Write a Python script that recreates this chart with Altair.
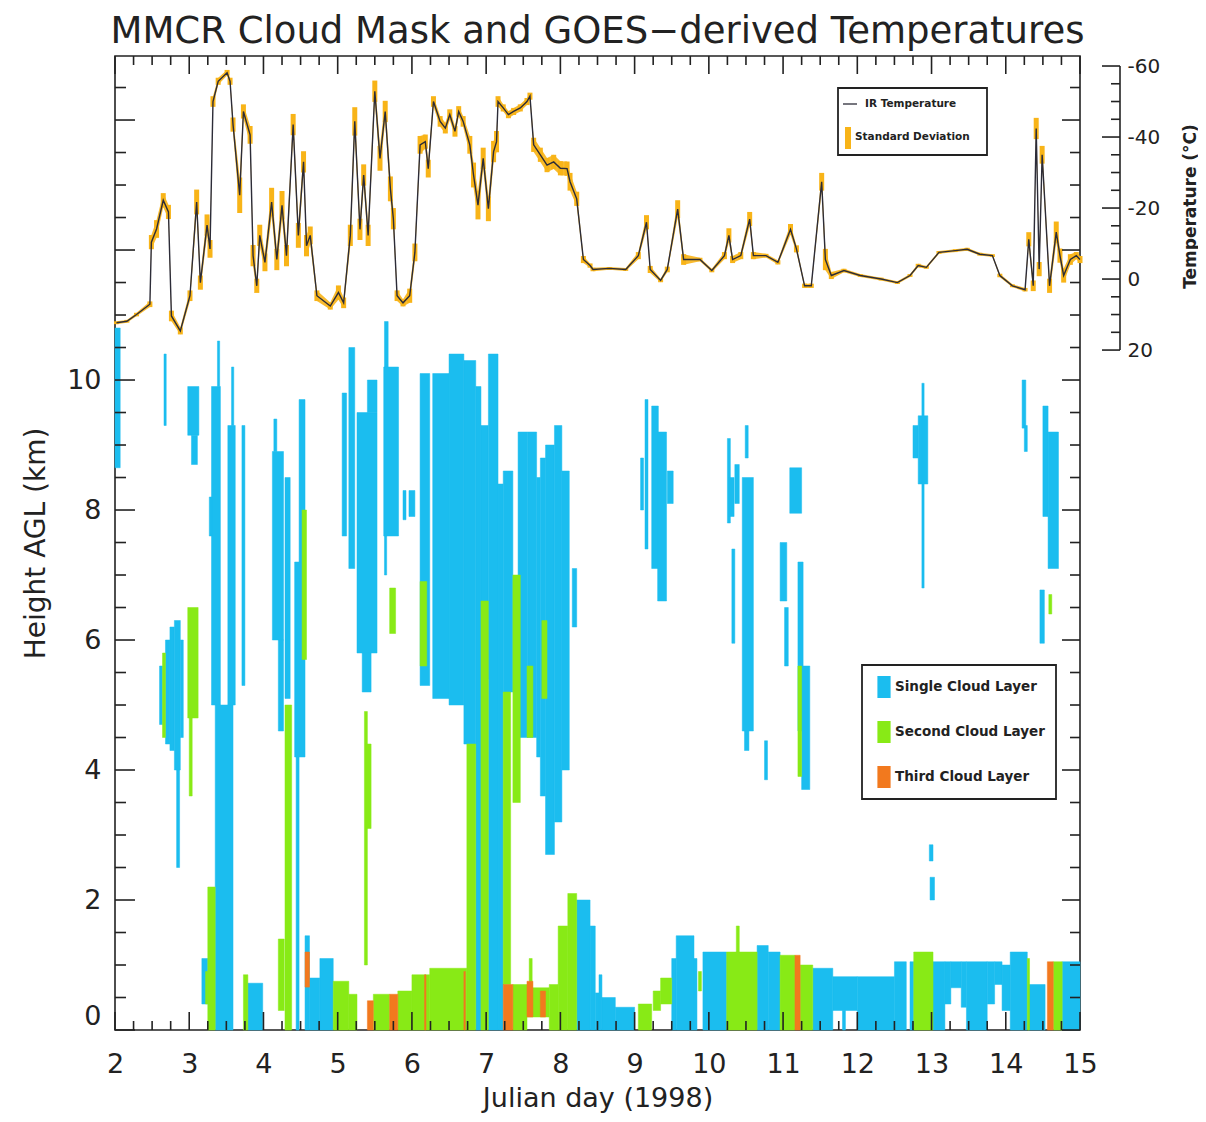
import altair as alt
import pandas as pd

W, H = 965, 974
X_DOMAIN = [2, 15]
KM_DOMAIN = [0, 14.985]
T_DOMAIN = [-62.82, 211.5]
FONT = "DejaVu Sans"
INK = "#222222"
SD_COLOR = "#F8B418"
LINE_COLOR = "#2c2c38"
TITLE = "MMCR Cloud Mask and GOES−derived Temperatures"

# ---------------- GOES IR temperature (deg C) and its standard deviation ----------------
temp_day = [2.02, 2.16, 2.29, 2.47, 2.49, 2.56, 2.65, 2.72, 2.76, 2.88,
            3.01, 3.10, 3.15, 3.24, 3.28, 3.32, 3.39, 3.51, 3.55, 3.59,
            3.68, 3.73, 3.82, 3.86, 3.91, 3.95, 4.02, 4.11, 4.18, 4.25,
            4.31, 4.40, 4.47, 4.54, 4.58, 4.63, 4.72, 4.90, 5.01, 5.08,
            5.17, 5.23, 5.30, 5.35, 5.41, 5.50, 5.57, 5.64, 5.71, 5.75,
            5.80, 5.88, 5.97, 6.04, 6.11, 6.18, 6.22, 6.29, 6.38, 6.45,
            6.51, 6.58, 6.63, 6.69, 6.78, 6.83, 6.89, 6.96, 7.03, 7.10,
            7.14, 7.16, 7.23, 7.30, 7.37, 7.46, 7.55, 7.59, 7.64, 7.73,
            7.82, 7.91, 8.00, 8.09, 8.13, 8.22, 8.31, 8.40, 8.44, 8.66,
            8.88, 9.05, 9.16, 9.21, 9.35, 9.44, 9.58, 9.66, 9.88, 10.04,
            10.21, 10.27, 10.32, 10.43, 10.55, 10.60, 10.77, 10.93, 11.10, 11.18,
            11.29, 11.38, 11.52, 11.57, 11.65, 11.82, 12.04, 12.32, 12.54, 12.71,
            12.82, 12.93, 13.10, 13.32, 13.48, 13.65, 13.82, 13.92, 14.09, 14.26,
            14.31, 14.37, 14.41, 14.45, 14.49, 14.59, 14.68, 14.73, 14.78, 14.87,
            14.95, 15.00]
temp_c = [12.3, 11.9, 10.0, 7.1, -10.4, -14.1, -22.2, -18.9, 10.4, 14.6,
          4.7, -21.7, 1.0, -15.2, -8.5, -50.0, -55.7, -58.1, -55.7, -43.5,
          -23.6, -47.2, -40.6, -6.6, 1.9, -12.3, -4.7, -21.7, -5.5, -20.8,
          -6.6, -43.5, -12.3, -33.0, -9.4, -12.3, 4.7, 7.6, 3.8, 6.7,
          -12.3, -44.4, -14.0, -29.3, -12.3, -52.9, -34.0, -47.2, -25.4, -17.0,
          4.7, 6.7, 4.7, -7.5, -37.8, -38.7, -31.1, -50.0, -44.4, -42.5,
          -46.3, -41.6, -47.2, -44.4, -37.8, -29.3, -20.8, -34.0, -19.8, -35.9,
          -38.7, -50.0, -48.2, -46.3, -47.2, -48.2, -50.0, -51.5, -37.8, -35.0,
          -32.1, -33.0, -31.2, -31.1, -27.4, -22.6, -5.5, -3.8, -2.7, -3.0,
          -2.7, -6.6, -16.0, -2.7, 0.4, -2.7, -19.7, -5.5, -5.5, -2.4,
          -6.6, -12.3, -5.5, -6.6, -16.9, -6.6, -6.6, -4.7, -14.0, -8.5,
          1.9, 1.9, -27.4, -5.5, -1.0, -2.4, -1.0, 0.0, 1.0, -1.0,
          -3.8, -3.3, -7.5, -8.0, -8.4, -7.0, -6.6, -1.0, 1.9, 3.0,
          -11.2, 1.9, -42.4, -2.8, -35.0, 1.9, -13.2, -6.6, -1.0, -5.5,
          -6.6, -5.5]
temp_sd = [0.4, 0.4, 0.5, 0.8, 2.0, 2.5, 2.0, 2.0, 1.5, 1.0,
           1.5, 3.5, 2.0, 3.0, 2.5, 1.5, 1.0, 0.8, 1.0, 2.0,
           5.0, 2.0, 2.5, 3.0, 2.0, 3.0, 2.5, 4.0, 3.0, 4.0,
           3.0, 3.0, 3.5, 3.0, 3.0, 2.5, 1.5, 1.0, 2.0, 1.5,
           3.0, 4.0, 3.0, 3.0, 3.0, 3.0, 3.5, 3.0, 3.5, 3.0,
           1.5, 1.0, 2.0, 2.5, 2.5, 2.0, 2.5, 1.5, 1.5, 1.5,
           1.5, 1.5, 1.5, 1.5, 2.5, 3.5, 4.0, 3.0, 3.5, 3.0,
           3.0, 1.5, 1.0, 1.0, 1.0, 1.0, 1.0, 1.0, 2.0, 2.0,
           2.0, 2.0, 2.0, 2.0, 2.5, 2.0, 1.0, 0.6, 0.5, 0.4,
           0.4, 1.0, 2.0, 1.0, 0.5, 0.8, 2.5, 1.5, 0.5, 0.5,
           1.0, 2.0, 1.0, 1.0, 2.0, 1.0, 0.5, 0.6, 1.5, 1.0,
           0.6, 0.6, 2.5, 3.0, 1.0, 0.5, 0.4, 0.4, 0.4, 0.4,
           0.5, 0.4, 0.4, 0.4, 0.4, 0.4, 0.4, 0.5, 0.4, 0.5,
           2.0, 1.5, 3.0, 2.0, 2.5, 2.0, 3.0, 2.0, 2.0, 1.5,
           1.0, 1.0]

# ---------------- MMCR cloud mask: (day start, day end, base km, top km) ----------------
single_layer = [
    (2.00, 2.07, 8.65, 10.8), (2.60, 2.64, 4.7, 5.6), (2.68, 2.74, 4.4, 6.0),
    (2.74, 2.80, 4.3, 6.2), (2.80, 2.88, 4.0, 6.3), (2.83, 2.87, 2.5, 4.0),
    (2.88, 2.92, 4.5, 6.0), (2.66, 2.69, 9.3, 10.4), (2.98, 3.13, 9.15, 9.9),
    (3.03, 3.11, 8.7, 9.15), (3.17, 3.25, 0.4, 1.1), (3.30, 3.42, 5.0, 9.9),
    (3.38, 3.41, 9.9, 10.6), (3.35, 3.59, 0.0, 5.0), (3.52, 3.62, 5.0, 9.3),
    (3.57, 3.60, 9.3, 10.2), (3.27, 3.31, 7.6, 8.2), (3.71, 3.75, 5.3, 9.3),
    (3.79, 3.99, 0.0, 0.72), (4.14, 4.18, 8.9, 9.4), (4.12, 4.27, 6.0, 8.9),
    (4.20, 4.27, 4.6, 6.0), (4.29, 4.36, 5.1, 8.5), (4.42, 4.56, 4.2, 7.2),
    (4.48, 4.56, 7.2, 9.7), (4.44, 4.48, 0.0, 4.2), (4.56, 4.62, 0.0, 1.45),
    (4.62, 4.76, 0.0, 0.8), (4.76, 4.94, 0.0, 1.1), (5.06, 5.12, 7.6, 9.8),
    (5.15, 5.23, 7.1, 10.5), (5.26, 5.53, 5.8, 9.5), (5.40, 5.53, 9.5, 10.0),
    (5.33, 5.45, 5.2, 5.8), (5.62, 5.82, 7.6, 10.2), (5.63, 5.68, 10.2, 10.9),
    (5.63, 5.66, 7.0, 7.6), (5.88, 5.92, 7.85, 8.3), (5.96, 6.04, 7.9, 8.3),
    (6.11, 6.24, 5.3, 10.1), (6.28, 6.50, 5.1, 10.1), (6.50, 6.70, 5.0, 10.4),
    (6.70, 6.86, 4.4, 10.3), (6.86, 6.93, 0.0, 9.9), (6.93, 7.03, 5.4, 9.3),
    (7.03, 7.16, 0.0, 10.4), (7.16, 7.23, 0.0, 8.4), (7.23, 7.36, 5.2, 8.6),
    (7.43, 7.56, 4.5, 9.2), (7.56, 7.68, 4.5, 9.2), (7.68, 7.73, 4.2, 8.5),
    (7.73, 7.80, 3.6, 8.8), (7.80, 7.92, 2.7, 9.0), (7.92, 8.02, 3.2, 9.3),
    (8.02, 8.12, 4.0, 8.6), (8.16, 8.22, 6.2, 7.1), (8.22, 8.40, 0.0, 2.0),
    (8.40, 8.47, 0.0, 1.6), (8.47, 8.52, 0.0, 0.57), (8.52, 8.56, 0.0, 0.85),
    (8.56, 8.74, 0.0, 0.5), (8.74, 9.00, 0.0, 0.35), (9.08, 9.12, 8.0, 8.8),
    (9.14, 9.18, 7.4, 9.7), (9.23, 9.32, 7.1, 9.6), (9.31, 9.43, 6.6, 9.2),
    (9.44, 9.52, 8.1, 8.6), (9.50, 9.56, 0.0, 1.1), (9.56, 9.80, 0.0, 1.45),
    (9.80, 9.84, 0.0, 1.1), (9.92, 10.24, 0.0, 1.2), (10.65, 10.80, 0.0, 1.3),
    (10.80, 10.96, 0.0, 1.2), (10.25, 10.29, 7.8, 9.1), (10.27, 10.34, 7.9, 8.5),
    (10.35, 10.41, 8.1, 8.7), (10.49, 10.53, 8.8, 9.3), (10.31, 10.35, 5.95, 7.4),
    (10.45, 10.60, 4.6, 8.5), (10.48, 10.54, 4.3, 4.6), (10.75, 10.79, 3.85, 4.45),
    (11.09, 11.25, 7.95, 8.65), (10.96, 11.05, 6.6, 7.5), (11.02, 11.07, 5.6, 6.5),
    (11.20, 11.27, 4.6, 7.2), (11.25, 11.36, 3.7, 5.6), (11.40, 11.67, 0.0, 0.95),
    (11.67, 12.00, 0.3, 0.82), (11.80, 11.84, 0.0, 0.3), (12.00, 12.50, 0.0, 0.82),
    (12.50, 12.66, 0.0, 1.05), (12.71, 12.76, 0.0, 1.05), (12.75, 12.82, 8.8, 9.3),
    (12.82, 12.95, 8.4, 9.45), (12.87, 12.90, 6.8, 9.95), (12.98, 13.04, 2.0, 2.35),
    (12.97, 13.02, 2.6, 2.85), (13.02, 13.18, 0.0, 1.05), (13.18, 13.26, 0.4, 1.05),
    (13.26, 13.40, 0.65, 1.05), (13.40, 13.47, 0.35, 1.05), (13.47, 13.75, 0.0, 1.05),
    (13.75, 13.85, 0.4, 1.05), (13.85, 13.95, 0.7, 1.05), (13.95, 14.06, 0.3, 1.0),
    (14.06, 14.29, 0.0, 1.2), (14.30, 14.53, 0.0, 0.7), (14.76, 15.00, 0.0, 1.05),
    (14.22, 14.27, 9.26, 10.0), (14.25, 14.29, 8.9, 9.3), (14.50, 14.57, 7.9, 9.6),
    (14.57, 14.71, 7.1, 9.2), (14.46, 14.52, 5.95, 6.77),
]
second_layer = [
    (2.64, 2.68, 4.5, 5.8), (2.98, 3.12, 4.8, 6.5), (3.00, 3.04, 3.6, 4.8),
    (3.22, 3.25, 0.4, 0.9), (3.25, 3.35, 0.0, 2.2), (3.73, 3.79, 0.0, 0.85),
    (4.20, 4.28, 0.3, 1.4), (4.29, 4.38, 0.0, 5.0), (4.52, 4.58, 5.7, 8.0),
    (4.94, 5.15, 0.0, 0.75), (5.15, 5.26, 0.0, 0.55), (5.36, 5.40, 1.0, 4.9),
    (5.38, 5.45, 3.1, 4.4), (5.48, 5.70, 0.0, 0.55), (5.70, 5.78, 6.1, 6.8),
    (5.81, 6.00, 0.0, 0.6), (6.00, 6.24, 0.0, 0.85), (6.11, 6.20, 5.6, 6.9),
    (6.24, 6.74, 0.0, 0.95), (6.74, 6.86, 0.0, 4.4), (6.93, 7.03, 0.0, 6.6),
    (7.23, 7.33, 0.7, 5.2), (7.36, 7.46, 3.5, 7.0), (7.36, 7.55, 0.0, 0.7),
    (7.55, 7.85, 0.2, 0.65), (7.58, 7.62, 0.65, 1.1), (7.85, 7.97, 0.0, 0.7),
    (7.55, 7.63, 4.5, 5.6), (7.75, 7.82, 5.1, 6.3), (7.97, 8.10, 0.0, 1.6),
    (8.10, 8.22, 0.0, 2.1), (9.05, 9.23, 0.0, 0.4), (9.25, 9.35, 0.3, 0.6),
    (9.35, 9.50, 0.4, 0.8), (9.86, 9.90, 0.6, 0.9), (10.24, 10.65, 0.0, 1.2),
    (10.37, 10.41, 1.2, 1.6), (10.96, 11.16, 0.0, 1.15), (11.23, 11.40, 0.0, 1.0),
    (11.20, 11.25, 3.9, 5.6), (12.76, 13.02, 0.0, 1.2), (14.29, 14.32, 0.0, 1.1),
    (14.64, 14.76, 0.0, 1.05), (14.58, 14.62, 6.4, 6.7),
]
third_layer = [
    (4.56, 4.62, 0.66, 1.2), (5.40, 5.48, 0.0, 0.45), (5.70, 5.81, 0.0, 0.55),
    (6.17, 6.19, 0.0, 0.85), (6.70, 6.72, 0.0, 0.9), (7.23, 7.36, 0.0, 0.7),
    (7.55, 7.63, 0.2, 0.75), (7.73, 7.80, 0.2, 0.6), (11.16, 11.23, 0.0, 1.15),
    (14.56, 14.64, 0.0, 1.05),
]
layer_names = ["Single Cloud Layer", "Second Cloud Layer", "Third Cloud Layer"]
layer_colors = ["#1BBDEF", "#88EA16", "#F2791E"]

# ---------------- axis ticks ----------------
x_labels = list(range(2, 16))
x_major_ticks = list(range(2, 16))
x_minor_ticks = [d + f for d in range(2, 15) for f in (0.25, 0.5, 0.75)]
km_labels = [0, 2, 4, 6, 8, 10]
km_major_ticks = [0, 2, 4, 6, 8, 10, 12, 14]
km_minor_ticks = [v * 0.5 for v in range(0, 30) if v % 4 != 0]
t_major_ticks = [-60, -40, -20, 0, 20]
t_minor_ticks = [-55, -50, -45, -35, -30, -25, -15, -10, -5, 5, 10, 15]

assert len(temp_day) == len(temp_c) == len(temp_sd)

# ---------------- build tables ----------------
rows = []
for name, segs in zip(layer_names, [single_layer, second_layer, third_layer]):
    for d0, d1, h0, h1 in segs:
        rows.append({"d0": d0, "d1": d1, "h0": h0, "h1": h1, "kind": name})
clouds = pd.DataFrame(rows)
temp_df = pd.DataFrame({"day": temp_day, "t": temp_c, "sd": temp_sd})

xs = alt.Scale(domain=X_DOMAIN, nice=False, zero=False)
ys_km = alt.Scale(domain=KM_DOMAIN, nice=False, zero=False)
ys_t = alt.Scale(domain=T_DOMAIN, nice=False, zero=False, reverse=True)
cscale = alt.Scale(domain=layer_names, range=layer_colors)

X_AXIS = alt.Axis(
    values=x_labels, ticks=False, domain=False, grid=False,
    labelFontSize=27, labelPadding=21, labelFlush=False,
    title="Julian day (1998)", titleFontSize=27, titleFontWeight="normal",
    titlePadding=8)

cloud_chart = alt.Chart(clouds).mark_rect(strokeWidth=0.5).encode(
    x=alt.X("d0:Q", scale=xs, axis=X_AXIS),
    x2="d1:Q",
    y=alt.Y("h0:Q", scale=ys_km, axis=alt.Axis(
        values=km_labels, ticks=False, domain=False, grid=False,
        labelFontSize=27, labelPadding=14, labelFlush=True,
        title="Height AGL (km)", titleFontSize=28, titleFontWeight="normal",
        titlePadding=16)),
    y2="h1:Q",
    color=alt.Color("kind:N", scale=cscale, legend=alt.Legend(
        title=None, orient="none", legendX=747, legendY=609, direction="vertical",
        symbolType="M-0.6,-1H0.6V1H-0.6Z", symbolSize=484, symbolStrokeWidth=0,
        symbolOpacity=1, labelFontSize=13.5, labelFont=FONT, labelFontWeight="bold",
        labelColor=INK, labelOffset=0, rowPadding=23, padding=11,
        strokeColor=INK, fillColor="white", labelLimit=300)),
    stroke=alt.Stroke("kind:N", scale=cscale, legend=None),
)

sd_base = alt.Chart(temp_df).transform_calculate(
    lo="datum.t - datum.sd", hi="datum.t + datum.sd")

sd_band = sd_base.mark_area(color=SD_COLOR, opacity=0.9).encode(
    x=alt.X("day:Q", scale=xs, axis=X_AXIS),
    y=alt.Y("lo:Q", scale=ys_t, axis=None),
    y2="hi:Q",
)

sd_bars = sd_base.mark_rule(color=SD_COLOR, strokeWidth=5).encode(
    x=alt.X("day:Q", scale=xs, axis=X_AXIS),
    y=alt.Y("lo:Q", scale=ys_t, axis=None),
    y2="hi:Q",
)

line_chart = alt.Chart(temp_df).mark_line(color=LINE_COLOR, strokeWidth=1.4).encode(
    x=alt.X("day:Q", scale=xs, axis=X_AXIS),
    y=alt.Y("t:Q", scale=ys_t, axis=alt.Axis(
        orient="right", values=t_major_ticks, offset=40, ticks=False, domain=False,
        grid=False, labelExpr="'' + datum.value", labelFontSize=20, labelPadding=7,
        labelAlign="left", title="Temperature (°C)", titleFontSize=17,
        titleFontWeight="bold", titleAngle=270, titleX=70, titleY=150,
        titleAlign="center", titleBaseline="middle")),
)


def xticks(vals, y0, y1):
    return alt.Chart(pd.DataFrame({"v": vals})).mark_rule(color=INK, strokeWidth=1.6).encode(
        x=alt.X("v:Q", scale=xs, axis=X_AXIS), y=alt.value(y0), y2=alt.value(y1))


def kmticks(vals, x0, x1):
    return alt.Chart(pd.DataFrame({"v": vals})).mark_rule(color=INK, strokeWidth=1.6).encode(
        y=alt.Y("v:Q", scale=ys_km, axis=None), x=alt.value(x0), x2=alt.value(x1))


def tticks(vals, x0, x1):
    return alt.Chart(pd.DataFrame({"v": vals})).mark_rule(color=INK, strokeWidth=1.6).encode(
        y=alt.Y("v:Q", scale=ys_t, axis=None), x=alt.value(x0), x2=alt.value(x1))


TX = W + 40
t_axis_line = alt.Chart(pd.DataFrame({"a": [t_major_ticks[0]], "b": [t_major_ticks[-1]]})).mark_rule(
    color=INK, strokeWidth=1.6).encode(
    y=alt.Y("a:Q", scale=ys_t, axis=None), y2="b:Q", x=alt.value(TX))

one = pd.DataFrame({"k": [0]})
title_mark = alt.Chart(one).mark_text(text=TITLE, align="center", baseline="alphabetic",
                                      fontSize=37, font=FONT, color=INK).encode(
    x=alt.value(W / 2), y=alt.value(-13))
leg_box = alt.Chart(one).mark_rect(fill="white", stroke=INK, strokeWidth=1.8).encode(
    x=alt.value(723), x2=alt.value(872), y=alt.value(32), y2=alt.value(99))
leg_line = alt.Chart(one).mark_rule(color=LINE_COLOR, strokeWidth=1.3).encode(
    x=alt.value(728), x2=alt.value(742), y=alt.value(48))
leg_bar = alt.Chart(one).mark_rect(color=SD_COLOR).encode(
    x=alt.value(730), x2=alt.value(736), y=alt.value(71), y2=alt.value(93))
leg_t1 = alt.Chart(one).mark_text(text="IR Temperature", align="left", baseline="middle",
                                  fontSize=10.5, fontWeight="bold", font=FONT, color=INK).encode(
    x=alt.value(750), y=alt.value(48))
leg_t2 = alt.Chart(one).mark_text(text="Standard Deviation", align="left", baseline="middle",
                                  fontSize=10.5, fontWeight="bold", font=FONT, color=INK).encode(
    x=alt.value(740), y=alt.value(81))

chart = alt.layer(
    cloud_chart, sd_band, sd_bars, line_chart,
    xticks(x_major_ticks, H, H - 18), xticks(x_minor_ticks, H, H - 9),
    xticks(x_major_ticks, 0, 18), xticks(x_minor_ticks, 0, 9),
    kmticks(km_major_ticks, 0, 20), kmticks(km_minor_ticks, 0, 11),
    kmticks(km_major_ticks, W, W - 18), kmticks(km_minor_ticks, W, W - 10),
    t_axis_line, tticks(t_major_ticks, TX - 18, TX), tticks(t_minor_ticks, TX - 9, TX),
    leg_box, leg_line, leg_bar, leg_t1, leg_t2, title_mark,
).resolve_scale(
    y="independent", color="independent", stroke="independent"
).properties(
    width=W, height=H,
    autosize=alt.AutoSizeParams(type="none"),
    padding={"left": 107, "top": 48, "right": 118, "bottom": 84},
).configure_view(
    stroke=INK, strokeWidth=1.6
).configure_axis(
    labelFont=FONT, titleFont=FONT, labelColor=INK, titleColor=INK
).configure_legend(
    strokeWidth=1.8
)

chart.save("out.html", embed_options={"renderer": "svg", "actions": False})
